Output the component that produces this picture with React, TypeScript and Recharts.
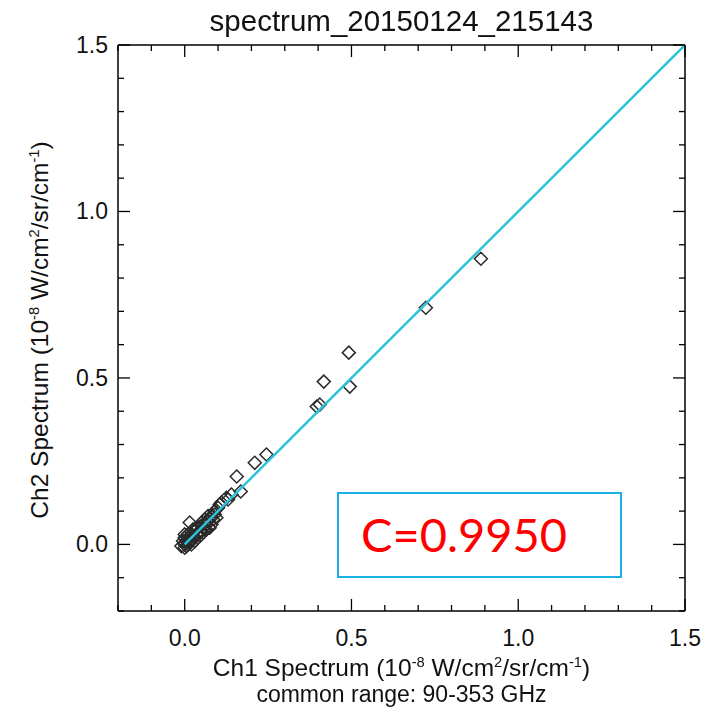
import React from "react";
import { ScatterChart, Scatter, XAxis, YAxis } from "recharts";

const ch1 = [
  0.0, 0.0, 0.005, 0.01, 0.0, 0.01, 0.015, 0.02, 0.02, 0.025, 0.03, 0.03, 0.035, 0.04, 0.04,
  0.045, 0.05, 0.05, 0.055, 0.06, 0.06, 0.065, 0.07, 0.075, 0.015, 0.08, 0.085, 0.09, 0.1,
  0.105, 0.125, 0.14, 0.156, 0.168, 0.21, 0.245, 0.396, 0.405, 0.417, 0.495, 0.492, 0.723, 0.888,
  -0.01, -0.005, 0.0, 0.005, 0.01, 0.02, 0.025, 0.03, 0.035, 0.045, 0.05, 0.055, 0.06, 0.065,
  0.07, 0.08, 0.09, 0.095, 0.11, 0.13,
];
const ch2 = [
  -0.01, 0.0, 0.01, 0.0, 0.02, 0.02, 0.01, 0.03, 0.015, 0.025, 0.04, 0.02, 0.03, 0.05, 0.03,
  0.04, 0.055, 0.04, 0.05, 0.065, 0.045, 0.06, 0.07, 0.05, 0.066, 0.085, 0.075, 0.1, 0.11,
  0.12, 0.14, 0.15, 0.204, 0.159, 0.245, 0.27, 0.414, 0.42, 0.489, 0.474, 0.576, 0.711, 0.858,
  -0.005, 0.01, 0.03, -0.005, 0.03, 0.0, 0.045, 0.01, 0.05, 0.025, 0.065, 0.035, 0.075, 0.045,
  0.085, 0.06, 0.09, 0.08, 0.126, 0.135,
];
const points = ch1.map((x, i) => ({ x, y: ch2[i] }));

const fitX = [0, 1.5];
const fitY = [0, 1.5];
const fitLine = fitX.map((x, i) => ({ x, y: fitY[i] }));

const axisTicks = [
  -0.2, -0.1, 0, 0.1, 0.2, 0.3, 0.4, 0.5, 0.6, 0.7, 0.8, 0.9, 1.0, 1.1, 1.2, 1.3, 1.4, 1.5,
];
const majorTicks = [0, 0.5, 1.0, 1.5];
const majorLabels = ["0.0", "0.5", "1.0", "1.5"];

const FONT = "'Liberation Sans', Arial, sans-serif";
const MAJOR = 12;
const MINOR = 6;

const labelOf = (v: number) => {
  const i = majorTicks.findIndex((m) => Math.abs(m - v) < 1e-6);
  return i >= 0 ? majorLabels[i] : null;
};

const BottomTick = (p: any) => {
  const lab = labelOf(p.payload.value);
  return (
    <g>
      <line x1={p.x} x2={p.x} y1={p.y} y2={p.y - (lab ? MAJOR : MINOR)} stroke="#000" strokeWidth={1.3} />
      {lab && (
        <text x={p.x} y={p.y + 35} textAnchor="middle" fontSize={23} fontFamily={FONT} fill="#111">
          {lab}
        </text>
      )}
    </g>
  );
};
const TopTick = (p: any) => {
  const lab = labelOf(p.payload.value);
  return <line x1={p.x} x2={p.x} y1={p.y} y2={p.y + (lab ? MAJOR : MINOR)} stroke="#000" strokeWidth={1.3} />;
};
const LeftTick = (p: any) => {
  const lab = labelOf(p.payload.value);
  return (
    <g>
      <line x1={p.x} x2={p.x + (lab ? MAJOR : MINOR)} y1={p.y} y2={p.y} stroke="#000" strokeWidth={1.3} />
      {lab && (
        <text x={p.x - 10} y={p.y + 8} textAnchor="end" fontSize={23} fontFamily={FONT} fill="#111">
          {lab}
        </text>
      )}
    </g>
  );
};
const RightTick = (p: any) => {
  const lab = labelOf(p.payload.value);
  return <line x1={p.x} x2={p.x - (lab ? MAJOR : MINOR)} y1={p.y} y2={p.y} stroke="#000" strokeWidth={1.3} />;
};

const Diamond = (p: any) => {
  const r = 6.5;
  return (
    <polygon
      points={`${p.cx},${p.cy - r} ${p.cx + r},${p.cy} ${p.cx},${p.cy + r} ${p.cx - r},${p.cy}`}
      fill="none"
      stroke="#2a2a2a"
      strokeWidth={1.5}
    />
  );
};

const sup = { fontSize: "0.6em", verticalAlign: "super" as const, lineHeight: 0 };
const axisLine = { stroke: "#000", strokeWidth: 1.5 };

export default function App() {
  return (
    <div style={{ position: "fixed", left: 0, top: 0, width: 717, height: 710, background: "#fff", fontFamily: FONT }}>
      <ScatterChart width={717} height={710} margin={{ top: 44, left: 117, right: 31, bottom: 98 }}>
        <XAxis xAxisId="b" dataKey="x" type="number" domain={[-0.2, 1.5]} ticks={axisTicks} interval={0}
          allowDataOverflow orientation="bottom" height={1} tickSize={0} tickMargin={0} axisLine={axisLine} tick={<BottomTick />} />
        <XAxis xAxisId="t" dataKey="x" type="number" domain={[-0.2, 1.5]} ticks={axisTicks} interval={0}
          allowDataOverflow orientation="top" height={1} tickSize={0} tickMargin={0} axisLine={axisLine} tick={<TopTick />} />
        <YAxis yAxisId="l" dataKey="y" type="number" domain={[-0.2, 1.5]} ticks={axisTicks} interval={0}
          allowDataOverflow orientation="left" width={1} tickSize={0} tickMargin={0} axisLine={axisLine} tick={<LeftTick />} />
        <YAxis yAxisId="r" dataKey="y" type="number" domain={[-0.2, 1.5]} ticks={axisTicks} interval={0}
          allowDataOverflow orientation="right" width={1} tickSize={0} tickMargin={0} axisLine={axisLine} tick={<RightTick />} />
        <Scatter xAxisId="b" yAxisId="l" data={points} shape={<Diamond />} isAnimationActive={false} />
        <Scatter
          xAxisId="b"
          yAxisId="l"
          data={fitLine}
          line={{ stroke: "#2BC3DA", strokeWidth: 2.5 }}
          lineType="joint"
          shape={() => <g />}
          isAnimationActive={false}
        />
      </ScatterChart>

      <div style={{ position: "absolute", left: 0, width: 803, top: 4, textAlign: "center", fontSize: 29.5, color: "#111" }}>
        spectrum_20150124_215143
      </div>

      <div style={{ position: "absolute", left: 0, width: 803, top: 654, textAlign: "center", fontSize: 24.5, color: "#111", lineHeight: "27px" }}>
        <div>
          Ch1 Spectrum (10<span style={sup}>-8</span> W/cm<span style={sup}>2</span>/sr/cm<span style={sup}>-1</span>)
        </div>
        <div style={{ fontSize: 23 }}>common range: 90-353 GHz</div>
      </div>

      <div
        style={{
          position: "absolute",
          left: 40,
          top: 330,
          transform: "translate(-50%, -50%) rotate(-90deg)",
          whiteSpace: "nowrap",
          fontSize: 24.5,
          color: "#111",
        }}
      >
        Ch2 Spectrum (10<span style={sup}>-8</span> W/cm<span style={sup}>2</span>/sr/cm<span style={sup}>-1</span>)
      </div>

      <div
        style={{
          position: "absolute",
          left: 337,
          top: 492,
          width: 285,
          height: 86,
          boxSizing: "border-box",
          border: "2px solid #1AAFE6",
          background: "#fff",
        }}
      >
        <div style={{ position: "absolute", left: 22, top: 12, fontFamily: "Lato, sans-serif", fontSize: 47, color: "#FF0000", lineHeight: "56px" }}>
          C=0.9950
        </div>
      </div>
    </div>
  );
}
